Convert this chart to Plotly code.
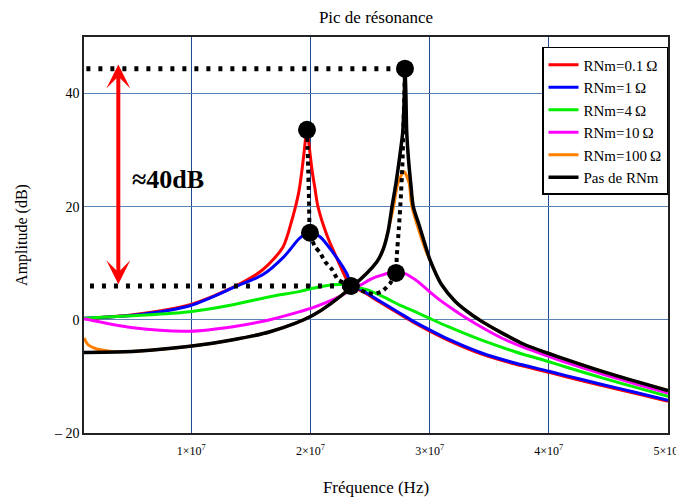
import plotly.graph_objects as go

# ---------------- data ----------------
# frequencies in Hz, amplitudes in dB
red_x = [1.0e6, 5.11e6, 9.89e6, 1.375e7, 1.602e7, 1.77e7, 1.845e7, 1.870e7, 1.904e7, 1.929e7,
         1.946e7, 1.962e7, 1.971e7, 1.979e7, 1.996e7, 2.013e7, 2.038e7, 2.063e7, 2.139e7, 2.223e7,
         2.307e7, 2.34e7, 2.433e7, 2.584e7, 2.751e7, 2.877e7, 2.997e7, 3.157e7, 3.437e7, 3.716e7,
         4.0e7, 4.136e7, 4.455e7, 4.723e7, 5.0e7]
red_y = [0.2, 0.9, 2.7, 6.0, 8.9, 12.9, 17.7, 19.6, 22.8, 26.5,
         29.5, 32.5, 33.6, 32.5, 29.5, 26.5, 23.2, 20.0, 14.9, 10.8,
         7.0, 6.0, 5.05, 3.1, 0.98, -0.6, -1.95, -3.62, -6.06, -7.83,
         -9.27, -10.02, -11.66, -13.0, -14.4]

blue_x = [1.0e6, 5.11e6, 9.89e6, 1.375e7, 1.602e7, 1.77e7, 1.828e7, 1.912e7, 1.996e7, 2.08e7,
          2.189e7, 2.307e7, 2.34e7, 2.433e7, 2.584e7, 2.751e7, 2.877e7, 2.997e7, 3.157e7, 3.437e7,
          3.716e7, 4.0e7, 4.136e7, 4.455e7, 4.723e7, 5.0e7]
blue_y = [0.3, 0.8, 2.5, 5.9, 8.0, 11.0, 12.4, 14.5, 15.4, 14.7,
          11.9, 8.1, 6.3, 5.24, 3.3, 1.18, -0.41, -1.74, -3.42, -5.86,
          -7.63, -9.07, -9.82, -11.46, -12.79, -14.2]

green_x = [1.0e6, 6.54e6, 9.89e6, 1.35e7, 1.661e7, 1.912e7, 2.021e7, 2.189e7, 2.273e7, 2.34e7,
           2.474e7, 2.626e7, 2.751e7, 2.877e7, 2.997e7, 3.157e7, 3.437e7, 3.716e7, 4.0e7, 4.136e7,
           4.455e7, 4.723e7, 5.0e7]
green_y = [0.3, 0.9, 1.44, 2.68, 4.1, 5.03, 5.6, 6.2, 6.25, 6.0,
           5.33, 3.92, 2.59, 1.44, 0.29, -1.21, -3.6, -5.63, -7.4, -8.28,
           -10.31, -11.9, -13.5]

magenta_x = [1.0e6, 5.11e6, 9.89e6, 1.35e7, 1.661e7, 1.912e7, 2.021e7, 2.189e7, 2.273e7, 2.34e7,
             2.433e7, 2.516e7, 2.584e7, 2.651e7, 2.718e7, 2.793e7, 2.835e7, 2.902e7, 2.975e7, 3.087e7,
             3.213e7, 3.297e7, 3.437e7, 3.605e7, 3.80e7, 4.0e7, 4.136e7, 4.455e7, 4.723e7, 5.0e7]
magenta_y = [0.2, -1.4, -2.0, -1.2, 0.03, 1.45, 2.15, 3.56, 4.45, 5.24,
             6.3, 7.28, 7.81, 8.25, 8.43, 8.16, 7.72, 6.75, 5.42, 3.48,
             1.62, 0.47, -1.3, -3.21, -4.97, -6.46, -7.48, -9.61, -11.29, -12.96]

orange_x = [1.0e6, 1.34e6, 2.0e6, 2.85e6, 3.68e6, 6.54e6, 9.89e6, 1.35e7, 1.661e7, 2.021e7,
            2.349e7, 2.558e7, 2.609e7, 2.697e7, 2.735e7, 2.785e7, 2.827e7, 2.852e7, 2.965e7, 3.003e7,
            3.045e7, 3.101e7, 3.213e7, 3.353e7, 3.437e7, 3.605e7, 3.80e7, 4.0e7, 4.136e7, 4.455e7,
            4.723e7, 5.0e7]
orange_y = [-3.2, -4.4, -5.1, -5.45, -5.65, -5.36, -4.66, -3.51, -2.1, 0.82,
            5.86, 10.28, 12.4, 20.0, 24.25, 26.2, 24.25, 20.0, 12.4, 10.6,
            8.5, 6.2, 3.3, 0.9, -0.27, -2.3, -4.4, -5.95, -6.95, -9.16,
            -10.84, -12.52]

black_x = [1.0e6, 3.68e6, 6.54e6, 9.89e6, 1.35e7, 1.661e7, 2.021e7, 2.349e7, 2.558e7, 2.609e7,
           2.651e7, 2.684e7, 2.718e7, 2.751e7, 2.774e7, 2.781e7, 2.787e7, 2.793e7, 2.800e7, 2.808e7,
           2.823e7, 2.841e7, 2.863e7, 2.911e7, 2.975e7, 3.003e7, 3.045e7, 3.101e7, 3.213e7, 3.353e7,
           3.437e7, 3.605e7, 3.80e7, 4.0e7, 4.136e7, 4.455e7, 4.723e7, 5.0e7]
black_y = [-5.75, -5.7, -5.36, -4.66, -3.51, -2.1, 0.82, 5.86, 10.28, 12.4,
           15.6, 20.0, 24.25, 29.2, 33.1, 35.8, 39.5, 44.2, 40.5, 33.1,
           28.3, 24.25, 20.0, 16.8, 12.4, 10.6, 8.5, 6.2, 3.3, 0.9,
           -0.27, -2.3, -4.4, -5.95, -6.95, -9.16, -10.84, -12.52]

# locus of the resonance peaks (dotted black curve)
locus_x = [1.971e7, 1.979e7, 1.988e7, 1.996e7, 2.038e7, 2.08e7, 2.122e7, 2.181e7, 2.231e7, 2.34e7,
           2.474e7, 2.533e7, 2.60e7, 2.667e7, 2.718e7, 2.724e7, 2.743e7, 2.757e7, 2.771e7, 2.779e7,
           2.787e7, 2.793e7]
locus_y = [33.6, 28.3, 21.2, 15.4, 12.9, 11.9, 10.3, 8.9, 7.1, 6.0,
           4.8, 4.6, 5.0, 6.4, 8.3, 11.2, 16.5, 21.2, 27.1, 33.1,
           38.9, 44.4]

peak_x = [1.971e7, 1.996e7, 2.34e7, 2.718e7, 2.793e7]
peak_y = [33.6, 15.4, 6.0, 8.3, 44.4]

level_high = 44.4
level_low = 6.0
level_high_x = [1.2e6, 2.793e7]
level_low_x = [1.5e6, 2.34e7]
arrow_x = 3.88e6
label_40db = "≈40dB"

series_names = ["RNm=0.1\u2009Ω", "RNm=1\u2009Ω", "RNm=4\u2009Ω", "RNm=10\u2009Ω", "RNm=100\u2009Ω", "Pas de RNm"]
series_colors = ["#ff0000", "#0000ff", "#00ee00", "#ff00ff", "#ff8000", "#000000"]

x_tickvals = [1e7, 2e7, 3e7, 4e7, 5e7]
x_ticktext = ["1×10<sup>7</sup>", "2×10<sup>7</sup>", "3×10<sup>7</sup>", "4×10<sup>7</sup>", "5×10<sup>7</sup>"]
y_tickvals = [-20, 0, 20, 40]
y_ticktext = ["– 20", "0", "20", "40"]

FONT = "Liberation Serif, Times New Roman, serif"

# ---------------- figure ----------------
# (the page body keeps its default 8px margin, so the figure is sized/placed accordingly)
fig = go.Figure()

xs = [red_x, blue_x, green_x, magenta_x, orange_x, black_x]
ys = [red_y, blue_y, green_y, magenta_y, orange_y, black_y]
widths = [3, 3, 3, 3, 3, 3.5]
for xv, yv, name, col, w in zip(xs, ys, series_names, series_colors, widths):
    fig.add_trace(go.Scatter(x=xv, y=yv, mode="lines", name=name,
                             line=dict(color=col, width=w, shape="spline", smoothing=0.8)))

# dotted reference levels
fig.add_trace(go.Scatter(x=level_high_x, y=[level_high, level_high], mode="lines", showlegend=False,
                         line=dict(color="black", width=5, dash="4px,8px"), hoverinfo="skip"))
fig.add_trace(go.Scatter(x=level_low_x, y=[level_low, level_low], mode="lines", showlegend=False,
                         line=dict(color="black", width=5, dash="4px,8px"), hoverinfo="skip"))
# locus
fig.add_trace(go.Scatter(x=locus_x, y=locus_y, mode="lines", showlegend=False,
                         line=dict(color="black", width=4, dash="4px,4px", shape="spline", smoothing=0.5),
                         hoverinfo="skip"))
# peak markers
fig.add_trace(go.Scatter(x=peak_x, y=peak_y, mode="markers", showlegend=False,
                         marker=dict(color="black", size=18)))

# double arrow
fig.add_annotation(x=arrow_x, y=level_low + 0.3, ax=arrow_x, ay=level_high + 1.0,
                   xref="x", yref="y", axref="x", ayref="y", text="", showarrow=True,
                   arrowhead=3, arrowsize=1, arrowwidth=4, arrowcolor="#ff0000",
                   arrowside="end+start")
fig.add_annotation(x=8.05e6, y=24.8, xref="x", yref="y", text="<b>" + label_40db + "</b>",
                   showarrow=False, font=dict(family=FONT, size=26, color="black"))

fig.update_layout(
    width=676, height=489,
    margin=dict(l=76, r=16, t=29, b=64, autoexpand=False),
    paper_bgcolor="white", plot_bgcolor="white",
    font=dict(family=FONT, color="black"),
    title=dict(text="Pic de résonance", x=0.5, xref="paper", xanchor="center",
               y=0.9816, yref="container", yanchor="middle", automargin=False,
               font=dict(family=FONT, size=17, color="black")),
    legend=dict(x=1, xanchor="right", y=0.975, yanchor="top",
                bgcolor="white", bordercolor="black", borderwidth=1.5,
                font=dict(family=FONT, size=15, color="black"),
                tracegroupgap=0, itemwidth=30),
    showlegend=True,
)
fig.update_xaxes(range=[1e6, 5e7], tickvals=x_tickvals, ticktext=x_ticktext, automargin=False,
                 showgrid=True, gridcolor="#1f4a8f", gridwidth=1, zeroline=False,
                 showline=True, linecolor="#222", linewidth=1.5, mirror=True,
                 ticks="", ticklabelstandoff=6, tickfont=dict(family=FONT, size=12),
                 title=dict(text="Fréquence (Hz)", font=dict(family=FONT, size=17), standoff=26))
fig.update_yaxes(range=[-20, 50], tickvals=y_tickvals, ticktext=y_ticktext, automargin=False,
                 showgrid=True, gridcolor="#5a84b8", gridwidth=1, zeroline=False,
                 showline=True, linecolor="#222", linewidth=1.5, mirror=True,
                 ticks="", tickfont=dict(family=FONT, size=14),
                 title=dict(text="Amplitude (dB)", font=dict(family=FONT, size=16), standoff=22))

fig.write_html("out.html")
